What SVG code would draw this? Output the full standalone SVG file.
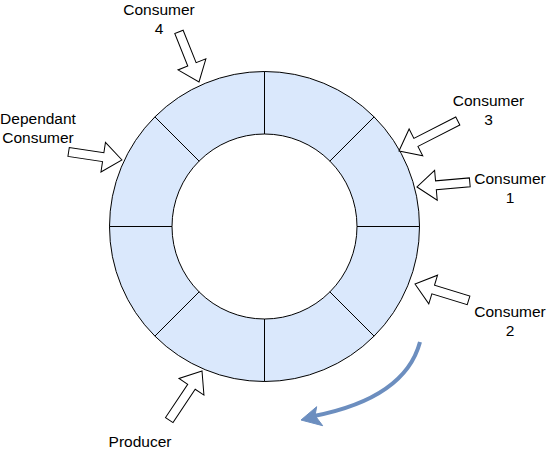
<svg xmlns="http://www.w3.org/2000/svg" width="547" height="452" viewBox="0 0 547 452">
<style>
.seg{fill:#dae8fc;stroke:#000;stroke-width:1}
.blk{fill:#fff;stroke:#000;stroke-width:1;stroke-linejoin:miter}
.lbl{font-family:"Liberation Sans",Arial,Helvetica,sans-serif;font-size:15.5px;fill:#000;text-anchor:middle}
.flow{fill:none;stroke:#6c8ebf;stroke-width:4}
</style>
<rect width="547" height="452" fill="#fff"/>
<g id="ring">
<path class="seg" d="M419.5,226.5 A155,155 0 0 1 374.1,336.1 L329.9,291.9 A92.5,92.5 0 0 0 357,226.5 Z"/>
<path class="seg" d="M374.1,336.1 A155,155 0 0 1 264.5,381.5 L264.5,319 A92.5,92.5 0 0 0 329.9,291.9 Z"/>
<path class="seg" d="M264.5,381.5 A155,155 0 0 1 154.9,336.1 L199.1,291.9 A92.5,92.5 0 0 0 264.5,319 Z"/>
<path class="seg" d="M154.9,336.1 A155,155 0 0 1 109.5,226.5 L172,226.5 A92.5,92.5 0 0 0 199.1,291.9 Z"/>
<path class="seg" d="M109.5,226.5 A155,155 0 0 1 154.9,116.9 L199.1,161.1 A92.5,92.5 0 0 0 172,226.5 Z"/>
<path class="seg" d="M154.9,116.9 A155,155 0 0 1 264.5,71.5 L264.5,134 A92.5,92.5 0 0 0 199.1,161.1 Z"/>
<path class="seg" d="M264.5,71.5 A155,155 0 0 1 374.1,116.9 L329.9,161.1 A92.5,92.5 0 0 0 264.5,134 Z"/>
<path class="seg" d="M374.1,116.9 A155,155 0 0 1 419.5,226.5 L357,226.5 A92.5,92.5 0 0 0 329.9,161.1 Z"/>
</g>
<g id="consumer4">
<polygon class="blk" transform="translate(199,82) rotate(68.2)" points="0,0 -19,-15 -19,-4.5 -54,-4.5 -54,4.5 -19,4.5 -19,15"/>
<text class="lbl" x="159" y="14.5">Consumer</text>
<text class="lbl" x="159" y="34">4</text>
</g>
<g id="dependant-consumer">
<polygon class="blk" transform="translate(122,160) rotate(8.6)" points="0,0 -19,-15 -19,-4.5 -54,-4.5 -54,4.5 -19,4.5 -19,15"/>
<text class="lbl" x="38" y="124">Dependant</text>
<text class="lbl" x="38" y="142.5">Consumer</text>
</g>
<g id="consumer3">
<polygon class="blk" transform="translate(399,151) rotate(153)" points="0,0 -19,-15 -19,-4.5 -66,-4.5 -66,4.5 -19,4.5 -19,15"/>
<text class="lbl" x="488.5" y="106">Consumer</text>
<text class="lbl" x="488.5" y="124.5">3</text>
</g>
<g id="consumer1">
<polygon class="blk" transform="translate(417,187) rotate(175)" points="0,0 -19,-15 -19,-4.5 -53,-4.5 -53,4.5 -19,4.5 -19,15"/>
<text class="lbl" x="510" y="184">Consumer</text>
<text class="lbl" x="510" y="203">1</text>
</g>
<g id="consumer2">
<polygon class="blk" transform="translate(415,284) rotate(197)" points="0,0 -19,-15 -19,-4.5 -56,-4.5 -56,4.5 -19,4.5 -19,15"/>
<text class="lbl" x="510" y="317">Consumer</text>
<text class="lbl" x="510" y="336">2</text>
</g>
<g id="producer">
<polygon class="blk" transform="translate(202,371) rotate(-56.3)" points="0,0 -19,-15 -19,-4.5 -59,-4.5 -59,4.5 -19,4.5 -19,15"/>
<text class="lbl" x="140" y="447">Producer</text>
</g>
<g id="connectors">
<path class="flow" d="M420,342 Q405,398 314,416"/>
<polygon fill="#6c8ebf" stroke="#6c8ebf" stroke-width="1" points="301,420 316.7,406.7 315,415.5 322.7,425.7"/>
</g>
</svg>
